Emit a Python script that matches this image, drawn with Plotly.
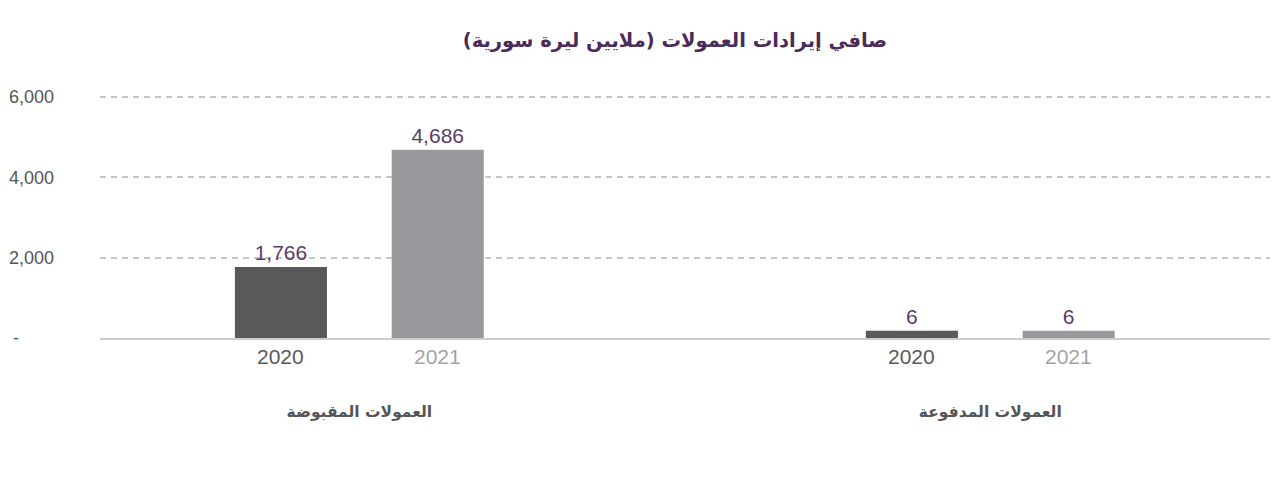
import plotly.graph_objects as go

# ---- data ----
categories = ["العمولات المقبوضة", "العمولات المدفوعة"]
years = ["2020", "2021"]
values_2020 = [1766, 6]
values_2021 = [4686, 6]
y_tickvals = [0, 2000, 4000, 6000]
y_ticktext = ["-\u2007\u2007\u2007\u2008", "2,000", "4,000", "6,000"]
title_text = "صافي إيرادات العمولات (ملايين ليرة سورية)"

# ---- style ----
bar_colors = {"2020": "#58595b", "2021": "#98999c"}
year_label_colors = {"2020": "#58595b", "2021": "#a3a3a6"}
value_color = "#5b3b6e"
title_color = "#4b2b5a"
grid_color = "#c6c6c6"
FONT = "Liberation Sans, Arial, DejaVu Sans, sans-serif"
AR_FONT = "DejaVu Sans, Noto Sans, sans-serif"

series = {"2020": values_2020, "2021": values_2021}
# small values are drawn with a minimum visible height (as in the original)
min_visible = 0.03 * max(y_tickvals)

BARGAP = 0.503
BARGROUPGAP = 0.413

# the page adds an 8px body margin; the figure is sized to fit the window
W, H = 1270, 480

fig = go.Figure()
for yr in years:
    vals = series[yr]
    fig.add_trace(go.Bar(
        name=yr,
        x=categories,
        y=[max(v, min_visible) for v in vals],
        text=[f"{v:,}" for v in vals],
        textposition="outside",
        textfont=dict(family=FONT, size=21, color=value_color),
        marker=dict(color=bar_colors[yr], line=dict(width=0)),
        cliponaxis=False,
        hoverinfo="skip",
    ))

# year labels under each bar
slot_px = 78.4
for i, yr in enumerate(years):
    shift = -slot_px if i == 0 else slot_px
    for c in categories:
        fig.add_annotation(
            x=c, y=0, xref="x", yref="y",
            text=yr, showarrow=False,
            xshift=shift, yshift=-5, yanchor="top",
            font=dict(family=FONT, size=21, color=year_label_colors[yr]),
        )

fig.update_layout(
    width=W, height=H,
    margin=dict(l=92, r=0, t=73, b=150),
    paper_bgcolor="white", plot_bgcolor="white",
    barmode="group", bargap=BARGAP, bargroupgap=BARGROUPGAP,
    showlegend=False,
    title=dict(
        text=f"<b>{title_text}</b>",
        x=667 / W, xanchor="center", xref="container",
        y=1 - 32 / H, yanchor="middle",
        font=dict(family=AR_FONT, size=19.5, color=title_color),
    ),
    xaxis=dict(
        type="category",
        range=[-0.411, 1.456],
        showline=True, linecolor="#cccccc", linewidth=2,
        showgrid=False, ticks="",
        ticklabelstandoff=58,
        tickfont=dict(family=AR_FONT, size=15.5, color="#555555"),
        tickvals=categories,
        ticktext=[f"<b>{c}</b>" for c in categories],
        fixedrange=True,
    ),
    yaxis=dict(
        range=[0, 6400],
        tickvals=y_tickvals, ticktext=y_ticktext,
        showgrid=True, gridcolor=grid_color, gridwidth=1.5, griddash="6px,5px",
        zeroline=False, showline=False, ticks="",
        ticklabelstandoff=45,
        tickfont=dict(family=FONT, size=18, color="#555555"),
        fixedrange=True,
    ),
)

fig.write_html("out.html")
